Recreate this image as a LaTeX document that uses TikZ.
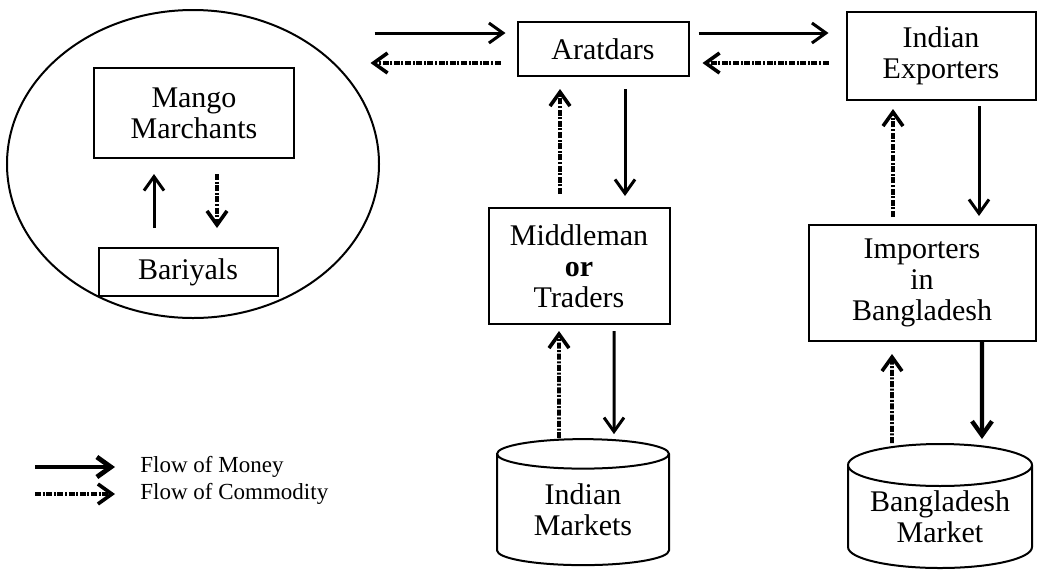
\documentclass[tikz,border=0pt]{standalone}
\usepackage{fontspec}
\setmainfont{Liberation Serif}
\usetikzlibrary{shapes.geometric, arrows.meta}

\begin{document}
\begin{tikzpicture}[x=0.5pt, y=-0.5pt]

\tikzset{box/.style = {shape=rectangle, draw, line width=1pt, inner sep=0pt, align=center, font=\fontsize{15}{15.5}\selectfont}}
\tikzset{market/.style = {shape=cylinder, shape border rotate=90, aspect=0.3, draw, line width=1pt, inner sep=0pt, align=center, font=\fontsize{15}{15.5}\selectfont}}
\tikzset{money/.style = {-{Straight Barb[length=7pt, width=10pt]}, line width=1.5pt}}
\tikzset{goods/.style = {-{Straight Barb[length=7pt, width=10pt]}, line width=1.8pt, dash pattern=on 3pt off 0.8pt on 1pt off 0.8pt}}
\tikzset{legend/.style = {anchor=west, inner sep=0pt, font=\fontsize{11.5}{12}\selectfont}}

\useasboundingbox (0,0) rectangle (1044,580);

%verticies
\node[shape=ellipse, draw, line width=1pt, minimum width=186pt, minimum height=154pt] (estate) at (193,164) {};
\node[box, minimum width=100pt, minimum height=45pt] (mango) at (194,113) {Mango\\Marchants};
\node[box, minimum width=89.5pt, minimum height=24pt] (bariyals) at (188,272) {Bariyals};
\node[box, minimum width=85.5pt, minimum height=27pt] (aratdars) at (603,49) {Aratdars};
\node[box, minimum width=94.5pt, minimum height=44pt] (exporters) at (941,56) {Indian\\Exporters};
\node[box, minimum width=90.5pt, minimum height=58pt] (middleman) at (579,266) {Middleman\\\textbf{or}\\Traders};
\node[box, minimum width=113.5pt, minimum height=58pt] (importers) at (922,283) {Importers\\in\\Bangladesh};
\node[market, minimum width=86pt, minimum height=63pt] (indmarket) at (583,510) {Indian\\Markets};
\node[market, minimum width=92pt, minimum height=62pt] (bdmarket) at (940,517) {Bangladesh\\Market};
\node[legend] (legmoney) at (140,467) {Flow of Money};
\node[legend] (leggoods) at (140,494) {Flow of Commodity};

%edges
\draw[money, shorten <=9.5pt, shorten >=7.5pt] ([xshift=-17pt]bariyals.north) -- ([xshift=-17pt]bariyals.north |- mango.south);
\draw[goods, shorten <=7.5pt, shorten >=9.5pt] ([xshift=14.5pt]bariyals.north |- mango.south) -- ([xshift=14.5pt]bariyals.north);

\draw[money, shorten >=5.5pt] ([shift={(-71pt,8pt)}]aratdars.west) -- ([yshift=8pt]aratdars.west);
\draw[goods, shorten <=8pt] ([yshift=-7pt]aratdars.west) -- ([shift={(-73pt,-7pt)}]aratdars.west);
\draw[money, shorten <=4.5pt, shorten >=8.5pt] ([yshift=8pt]aratdars.east) -- ([yshift=11.5pt]exporters.west);
\draw[goods, shorten <=8.5pt, shorten >=6.5pt] ([yshift=-3.5pt]exporters.west) -- ([yshift=-7pt]aratdars.east);

\draw[goods, shorten <=6.5pt, shorten >=6pt] ([xshift=-9.5pt]middleman.north) -- ([xshift=-21.5pt]aratdars.south);
\draw[money, shorten <=6pt, shorten >=5.5pt] ([xshift=11pt]aratdars.south) -- ([xshift=23pt]middleman.north);
\draw[goods, shorten >=3pt] ([xshift=-12pt]indmarket.north) -- ([xshift=-10pt]middleman.south);
\draw[money, shorten <=3pt, shorten >=2pt] ([xshift=17.5pt]middleman.south) -- ([xshift=15.5pt]indmarket.north);

\draw[goods, shorten <=3.5pt, shorten >=4pt] ([xshift=-14.5pt]importers.north) -- ([xshift=-24pt]exporters.south);
\draw[money, shorten <=2.5pt, shorten >=4pt] ([xshift=19pt]exporters.south) -- ([xshift=28.5pt]importers.north);
\draw[goods, shorten >=6pt] ([xshift=-24pt]bdmarket.north) -- ([xshift=-15pt]importers.south);
\draw[money, line width=2.2pt, shorten >=2pt] ([xshift=30pt]importers.south) -- ([xshift=21pt]bdmarket.north);

\draw[money, line width=2.4pt] ([xshift=-52.5pt]legmoney.west) -- ([xshift=-12.5pt]legmoney.west);
\draw[goods] ([xshift=-52.5pt]leggoods.west) -- ([xshift=-12.5pt]leggoods.west);

\end{tikzpicture}
\end{document}
